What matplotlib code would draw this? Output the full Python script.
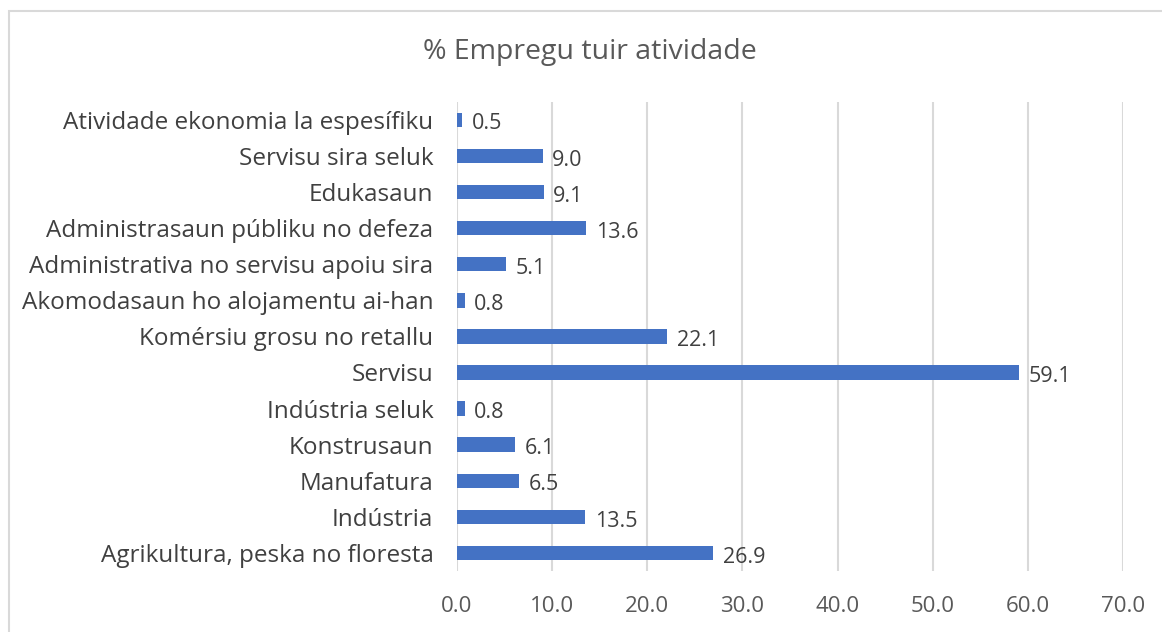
import matplotlib.pyplot as plt
from matplotlib.patches import Rectangle

# categories from bottom to top
categories = ['Agrikultura, peska no floresta', 'Indústria', 'Manufatura', 'Konstrusaun',
              'Indústria seluk', 'Servisu', 'Komérsiu grosu no retallu',
              'Akomodasaun ho alojamentu ai-han', 'Administrativa no servisu apoiu sira',
              'Administrasaun públiku no defeza', 'Edukasaun', 'Servisu sira seluk',
              'Atividade ekonomia la espesífiku']
values = [26.9, 13.5, 6.5, 6.1, 0.8, 59.1, 22.1, 0.8, 5.1, 13.6, 9.1, 9.0, 0.5]
xticks = [0, 10, 20, 30, 40, 50, 60, 70]

plt.rcParams['font.family'] = ['Open Sans', 'DejaVu Sans']

fig = plt.figure(figsize=(11.62, 6.32), dpi=100)
ax = fig.add_axes([0.3933, 0.0965, 0.5731, 0.7425])

# chart border
fig.patches.append(Rectangle((9/1162, -0.1), 1.2, 1.1 - 11/632, transform=fig.transFigure,
                             fill=False, edgecolor='#d9d9d9', linewidth=1.5))

ypos = list(range(len(categories)))
ax.barh(ypos, values, height=0.4, color='#4472C4', zorder=3)

for y, v in zip(ypos, values):
    ax.annotate('%.1f' % v, (v, y), xytext=(7, -3), textcoords='offset points',
                va='center', ha='left', fontsize=15.5, color='#404040')

ax.set_xlim(0, 70)
ax.set_ylim(-0.5, len(categories) - 0.5)
ax.set_xticks(xticks)
ax.set_xticklabels(['%.1f' % t for t in xticks], fontsize=16, color='#595959')
ax.set_yticks(ypos)
ax.set_yticklabels(categories, fontsize=17.5, color='#404040')
ax.tick_params(axis='both', length=0)
ax.tick_params(axis='x', pad=18)
ax.tick_params(axis='y', pad=17)
ax.grid(axis='x', color='#d9d9d9', linewidth=1.5, zorder=0)
for s in ax.spines.values():
    s.set_visible(False)

fig.text(0.508, 0.917, '% Empregu tuir atividade', ha='center', va='center',
         fontsize=20.5, color='#595959')

plt.savefig('out.png', dpi=100)
